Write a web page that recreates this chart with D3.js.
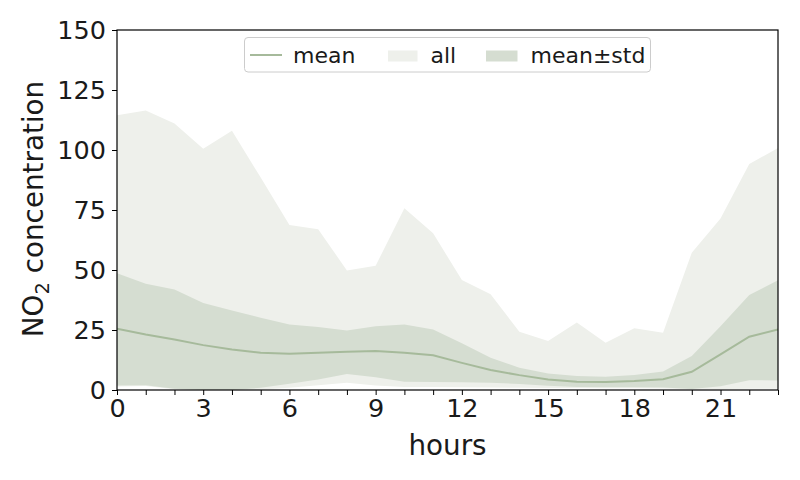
<!DOCTYPE html>
<html>
<head>
<meta charset="utf-8">
<script src="https://cdn.jsdelivr.net/npm/d3@7"></script>
<style>
  html, body { margin: 0; padding: 0; background: #fff; }
  svg { display: block; font-family: "DejaVu Sans", sans-serif; }
</style>
</head>
<body>
<svg id="chart" width="800" height="480"></svg>
<script>
// ---- data ----
const hours = d3.range(0, 24);
const meanVals = [25.5, 23.1, 21.0, 18.7, 16.9, 15.5, 15.1, 15.5, 15.9, 16.2, 15.5, 14.5,
                  11.3, 8.3, 6.2, 4.4, 3.4, 3.3, 3.7, 4.5, 7.6, 14.8, 22.2, 25.2];
const stdUpper = [48.6, 44.3, 41.9, 36.3, 33.1, 30.1, 27.3, 26.2, 24.8, 26.6, 27.3, 25.2,
                  19.5, 13.4, 9.3, 6.9, 5.8, 5.5, 6.2, 7.7, 14.2, 26.6, 39.6, 45.7];
const stdLower = [1.9, 2.0, 0.5, 0.0, 0.0, 0.9, 2.6, 4.4, 6.7, 5.3, 3.4, 3.3,
                  3.2, 3.0, 2.5, 1.8, 1.3, 1.1, 1.1, 1.0, 0.4, 1.6, 4.1, 4.0];
const allMax = [114.5, 116.5, 111.0, 100.5, 108.0, 88.5, 68.8, 67.0, 49.8, 51.8, 75.7, 65.3,
                45.8, 39.9, 24.3, 20.4, 28.1, 19.7, 25.7, 23.9, 57.2, 71.5, 94.2, 100.8];
const allMin = [1.5, 1.7, 0.3, 0.0, 0.0, 0.2, 0.9, 2.0, 3.0, 1.9, 1.3, 1.2,
                1.1, 1.0, 0.9, 0.8, 0.8, 0.7, 0.7, 0.6, 0.3, 0.4, 0.5, 0.5];
const yTicks = [0, 25, 50, 75, 100, 125, 150];
const xLabelEvery = 3;
const legendLabels = ["mean", "all", "mean\u00B1std"];

// ---- styling ----
const colAll = "#eef0eb";
const colStd = "#d5ddd1";
const colMean = "#a6ba9b";
const textCol = "#1a1a1a";

const svg = d3.select("#chart");
const pL = 117, pR = 778, pT = 30, pB = 390;

const x = d3.scaleLinear().domain([0, 23]).range([pL, pR]);
const y = d3.scaleLinear().domain([0, 150]).range([pB, pT]);

const rows = hours.map((h, i) => ({
  h, mean: meanVals[i], su: stdUpper[i], sl: stdLower[i], mx: allMax[i], mn: allMin[i]
}));

svg.append("clipPath").attr("id", "clip")
  .append("rect").attr("x", pL).attr("y", pT)
  .attr("width", pR - pL).attr("height", pB - pT);

const plot = svg.append("g").attr("clip-path", "url(#clip)");

plot.append("path").datum(rows)
  .attr("fill", colAll)
  .attr("d", d3.area().x(d => x(d.h)).y0(d => y(d.mn)).y1(d => y(d.mx)));

plot.append("path").datum(rows)
  .attr("fill", colStd)
  .attr("d", d3.area().x(d => x(d.h)).y0(d => y(d.sl)).y1(d => y(d.su)));

plot.append("path").datum(rows)
  .attr("fill", "none")
  .attr("stroke", colMean)
  .attr("stroke-width", 2)
  .attr("d", d3.line().x(d => x(d.h)).y(d => y(d.mean)));

// ---- axes ----
const xAxis = d3.axisBottom(x)
  .tickValues(hours)
  .tickFormat(d => d % xLabelEvery === 0 ? d : "")
  .tickSize(5).tickPadding(3.5);
const gx = svg.append("g").attr("transform", `translate(0,${pB})`).call(xAxis);
gx.select(".domain").remove();
gx.selectAll("line").attr("stroke", "#000").attr("stroke-width", 1);
gx.selectAll("text").attr("font-size", 25.5).attr("fill", textCol)
  .attr("font-family", "DejaVu Sans");

const yAxis = d3.axisLeft(y).tickValues(yTicks).tickSize(5).tickPadding(6);
const gy = svg.append("g").attr("transform", `translate(${pL},0)`).call(yAxis);
gy.select(".domain").remove();
gy.selectAll("line").attr("stroke", "#000").attr("stroke-width", 1);
gy.selectAll("text").attr("font-size", 25.5).attr("fill", textCol)
  .attr("font-family", "DejaVu Sans");

// frame
svg.append("rect")
  .attr("x", pL).attr("y", pT)
  .attr("width", pR - pL).attr("height", pB - pT)
  .attr("fill", "none").attr("stroke", "#000").attr("stroke-width", 1.2);

// axis labels
svg.append("text")
  .attr("x", (pL + pR) / 2).attr("y", 455)
  .attr("text-anchor", "middle").attr("font-size", 27.8).attr("fill", textCol)
  .text("hours");

const yl = svg.append("text")
  .attr("transform", `translate(43,209) rotate(-90)`)
  .attr("text-anchor", "middle").attr("font-size", 27.8).attr("fill", textCol);
yl.append("tspan").text("NO");
yl.append("tspan").attr("font-size", 19.5).attr("dy", 5.5).text("2");
yl.append("tspan").attr("dy", -5.5).text(" concentration");

// ---- legend ----
const lg = svg.append("g");
lg.append("rect")
  .attr("x", 244.5).attr("y", 37.5).attr("width", 406).attr("height", 34.5)
  .attr("rx", 3.5).attr("fill", "#fff").attr("fill-opacity", 0.8)
  .attr("stroke", "#cccccc").attr("stroke-width", 1);
const ly = 55;
lg.append("line").attr("x1", 250).attr("x2", 282).attr("y1", ly).attr("y2", ly)
  .attr("stroke", colMean).attr("stroke-width", 2);
lg.append("text").attr("x", 293).attr("y", ly).attr("dy", "0.35em")
  .attr("font-size", 22).attr("fill", textCol).text(legendLabels[0]);
lg.append("rect").attr("x", 388).attr("y", 50.5).attr("width", 29.5).attr("height", 11)
  .attr("fill", colAll);
lg.append("text").attr("x", 430.5).attr("y", ly).attr("dy", "0.35em")
  .attr("font-size", 22).attr("fill", textCol).text(legendLabels[1]);
lg.append("rect").attr("x", 486).attr("y", 50.5).attr("width", 31.5).attr("height", 11)
  .attr("fill", colStd);
lg.append("text").attr("x", 530.5).attr("y", ly).attr("dy", "0.35em")
  .attr("font-size", 22).attr("fill", textCol).text(legendLabels[2]);
</script>
</body>
</html>
